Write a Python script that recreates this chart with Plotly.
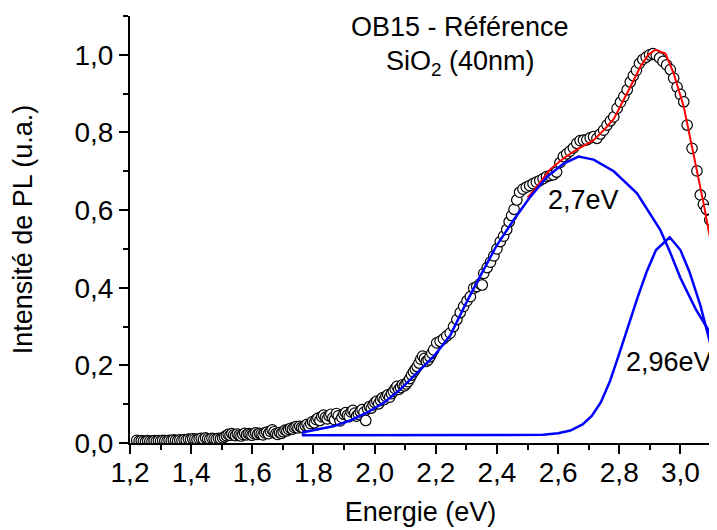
import plotly.graph_objects as go

# ---- measured PL spectrum (open circles) ----
energy = [
    1.222, 1.230, 1.237, 1.244, 1.251, 1.258, 1.265, 1.272, 1.279, 1.286,
    1.293, 1.300, 1.307, 1.314, 1.321, 1.328, 1.335, 1.342, 1.349, 1.356,
    1.363, 1.370, 1.377, 1.384, 1.391, 1.398, 1.405, 1.412, 1.419, 1.426,
    1.433, 1.440, 1.447, 1.454, 1.461, 1.468, 1.475, 1.482, 1.489, 1.496,
    1.503, 1.509, 1.515, 1.521, 1.527, 1.533, 1.539, 1.545, 1.551, 1.557,
    1.563, 1.569, 1.575, 1.581, 1.587, 1.593, 1.599, 1.605, 1.611, 1.617,
    1.623, 1.629, 1.635, 1.641, 1.647, 1.653, 1.659, 1.665, 1.671, 1.677,
    1.683, 1.689, 1.695, 1.701, 1.707, 1.713, 1.719, 1.725, 1.731, 1.737,
    1.743, 1.749, 1.755, 1.761, 1.767, 1.773, 1.779, 1.785, 1.791, 1.797,
    1.803, 1.809, 1.815, 1.821, 1.827, 1.833, 1.839, 1.845, 1.851, 1.857,
    1.863, 1.869, 1.875, 1.881, 1.887, 1.893, 1.899, 1.905, 1.911, 1.917,
    1.923, 1.929, 1.935, 1.941, 1.947, 1.953, 1.959, 1.965, 1.971, 1.977,
    1.983, 1.989, 1.995, 2.001, 2.007, 2.013, 2.019, 2.025, 2.031, 2.037,
    2.043, 2.049, 2.055, 2.061, 2.067, 2.073, 2.079, 2.085, 2.091, 2.097,
    2.103, 2.109, 2.115, 2.121, 2.127, 2.133, 2.139, 2.145, 2.151, 2.157,
    2.163, 2.169, 2.175, 2.181, 2.187, 2.193, 2.203, 2.214, 2.225, 2.236,
    2.247, 2.258, 2.269, 2.280, 2.291, 2.302, 2.313, 2.324, 2.334, 2.345,
    2.352, 2.357, 2.368, 2.379, 2.390, 2.400, 2.411, 2.422, 2.432, 2.440,
    2.448, 2.456, 2.465, 2.474, 2.485, 2.496, 2.507, 2.518, 2.529, 2.540,
    2.551, 2.562, 2.573, 2.584, 2.595, 2.606, 2.617, 2.628, 2.639, 2.650,
    2.661, 2.672, 2.683, 2.694, 2.705, 2.716, 2.727, 2.738, 2.749, 2.760,
    2.771, 2.782, 2.793, 2.804, 2.815, 2.826, 2.836, 2.846, 2.856, 2.866,
    2.877, 2.888, 2.899, 2.910, 2.921, 2.932, 2.943, 2.955, 2.967, 2.978,
    2.989, 3.000, 3.011, 3.022, 3.038, 3.054, 3.065, 3.075, 3.085, 3.096,
]
intensity = [
    0.007, 0.005, 0.006, 0.005, 0.004, 0.006, 0.005, 0.004, 0.006, 0.005,
    0.006, 0.005, 0.007, 0.006, 0.005, 0.007, 0.006, 0.008, 0.007, 0.006,
    0.008, 0.007, 0.009, 0.008, 0.010, 0.009, 0.011, 0.010, 0.009, 0.011,
    0.012, 0.010, 0.013, 0.011, 0.010, 0.012, 0.011, 0.010, 0.012, 0.011,
    0.013, 0.016, 0.019, 0.022, 0.020, 0.024, 0.021, 0.019, 0.023, 0.020,
    0.018, 0.022, 0.025, 0.021, 0.024, 0.022, 0.020, 0.024, 0.026, 0.022,
    0.025, 0.023, 0.021, 0.026, 0.028, 0.024, 0.030, 0.034, 0.029, 0.024,
    0.022, 0.027, 0.025, 0.029, 0.033, 0.031, 0.035, 0.038, 0.036, 0.040,
    0.042, 0.039, 0.043, 0.040, 0.039, 0.045, 0.048, 0.043, 0.050, 0.055,
    0.052, 0.060, 0.064, 0.058, 0.068, 0.072, 0.066, 0.062, 0.070, 0.074,
    0.065, 0.060, 0.076, 0.070, 0.057, 0.066, 0.074, 0.078, 0.071, 0.068,
    0.080, 0.084, 0.077, 0.069, 0.074, 0.081, 0.086, 0.079, 0.058, 0.088,
    0.094, 0.090, 0.098, 0.104, 0.108, 0.101, 0.110, 0.116, 0.112, 0.120,
    0.124, 0.118, 0.127, 0.133, 0.140, 0.146, 0.138, 0.143, 0.150, 0.147,
    0.152, 0.158, 0.166, 0.175, 0.183, 0.190, 0.197, 0.206, 0.216, 0.224,
    0.218, 0.210, 0.214, 0.222, 0.231, 0.240, 0.258, 0.262, 0.268, 0.276,
    0.283, 0.300, 0.318, 0.336, 0.352, 0.366, 0.377, 0.399, 0.403, 0.410,
    0.407, 0.437, 0.452, 0.466, 0.482, 0.500, 0.519, 0.533, 0.550, 0.570,
    0.586, 0.602, 0.626, 0.646, 0.654, 0.659, 0.663, 0.668, 0.672, 0.676,
    0.681, 0.686, 0.689, 0.691, 0.698, 0.722, 0.738, 0.745, 0.752, 0.760,
    0.772, 0.779, 0.780, 0.781, 0.786, 0.789, 0.785, 0.796, 0.806, 0.819,
    0.830, 0.840, 0.862, 0.878, 0.893, 0.910, 0.930, 0.946, 0.960, 0.978,
    0.988, 0.994, 1.000, 1.003, 0.999, 0.992, 0.983, 0.974, 0.962, 0.940,
    0.917, 0.898, 0.879, 0.819, 0.759, 0.701, 0.639, 0.615, 0.602, 0.575,
]

# ---- total fit (red) ----
fit_energy = [2.50, 2.52, 2.574, 2.62, 2.66, 2.716, 2.749, 2.782, 2.836,
              2.869, 2.895, 2.918, 2.951, 2.978, 3.011, 3.033, 3.054, 3.075, 3.10]
fit_total = [0.632, 0.650, 0.705, 0.735, 0.755, 0.780, 0.806, 0.835, 0.917,
             0.969, 1.000, 1.013, 1.003, 0.952, 0.866, 0.780, 0.707, 0.620, 0.515]

# ---- Gaussian component 2,7 eV (blue) ----
g1_energy = [1.762, 1.80, 1.865, 1.92, 1.975, 2.03, 2.084, 2.138, 2.193, 2.247,
             2.30, 2.35, 2.40, 2.455, 2.509, 2.564, 2.618, 2.667, 2.716, 2.782,
             2.858, 2.934, 2.967, 3.00, 3.05, 3.10]
g1_value = [0.027, 0.033, 0.043, 0.058, 0.078, 0.104, 0.138, 0.180, 0.223, 0.277,
            0.362, 0.437, 0.510, 0.575, 0.634, 0.686, 0.720, 0.738, 0.730, 0.700,
            0.643, 0.549, 0.490, 0.425, 0.345, 0.280]

# ---- Gaussian component 2,96 eV (blue) ----
g2_energy = [1.762, 2.40, 2.50, 2.55, 2.60, 2.64, 2.68, 2.71, 2.74, 2.77, 2.80,
             2.83, 2.86, 2.89, 2.92, 2.965, 3.00, 3.03, 3.065, 3.10]
g2_value = [0.020, 0.020, 0.020, 0.021, 0.025, 0.032, 0.048, 0.070, 0.105, 0.160,
            0.230, 0.305, 0.375, 0.442, 0.497, 0.530, 0.497, 0.440, 0.355, 0.249]

x_ticks = [1.2, 1.4, 1.6, 1.8, 2.0, 2.2, 2.4, 2.6, 2.8, 3.0]
y_ticks = [0.0, 0.2, 0.4, 0.6, 0.8, 1.0]

FONT = "Arial, Liberation Sans, sans-serif"

fig = go.Figure()
fig.add_trace(go.Scatter(
    x=energy, y=intensity, mode="markers",
    marker=dict(symbol="circle", size=10.5, color="white",
                line=dict(color="black", width=1.2)),
    showlegend=False))
fig.add_trace(go.Scatter(x=fit_energy, y=fit_total, mode="lines",
                         line=dict(color="#ff0000", width=2), showlegend=False))
fig.add_trace(go.Scatter(x=g1_energy, y=g1_value, mode="lines",
                         line=dict(color="#0000ff", width=2.5), showlegend=False))
fig.add_trace(go.Scatter(x=g2_energy, y=g2_value, mode="lines",
                         line=dict(color="#0000ff", width=2.5), showlegend=False))

axis_common = dict(
    showgrid=False, zeroline=False, showline=True, linecolor="black", linewidth=2,
    ticks="outside", ticklen=9, tickwidth=1.5, tickcolor="black",
    tickfont=dict(family=FONT, size=28, color="black"),
    tickformat=".1f", mirror=False, automargin=False,
)

fig.update_xaxes(
    range=[1.2, 3.1], tickmode="array", tickvals=x_ticks,
    ticklabelstandoff=-6,
    minor=dict(dtick=0.1, tick0=1.2, ticks="outside", ticklen=5, tickwidth=1.5, tickcolor="black"),
    title=dict(text="Energie (eV)", font=dict(family=FONT, size=27, color="black"), standoff=16),
    **axis_common)
fig.update_yaxes(
    range=[0, 1.1], tickmode="array", tickvals=y_ticks,
    minor=dict(dtick=0.1, tick0=0, ticks="outside", ticklen=5, tickwidth=1.5, tickcolor="black"),
    title=dict(text="Intensité de PL (u.a.)", font=dict(family=FONT, size=27, color="black"), standoff=34),
    **axis_common)

annots = [
    dict(x=2.28, y=1.071, text="OB15 - Référence"),
    dict(x=2.28, y=0.980, text="SiO<sub>2</sub> (40nm)"),
    dict(x=2.682, y=0.626, text="2,7eV"),
    dict(x=2.964, y=0.2095, text="2,96eV"),
]
for a in annots:
    fig.add_annotation(x=a["x"], y=a["y"], text=a["text"], xref="x", yref="y",
                       showarrow=False, xanchor="center", yanchor="middle",
                       font=dict(family=FONT, size=27, color="black"))

# the page adds an 8px body margin, so the figure is sized to fit the window
fig.update_layout(
    width=709, height=522,
    margin=dict(l=122, r=6, t=8, b=87),
    plot_bgcolor="white", paper_bgcolor="white",
    separators=", ",
    showlegend=False,
)

fig.write_html("out.html")
